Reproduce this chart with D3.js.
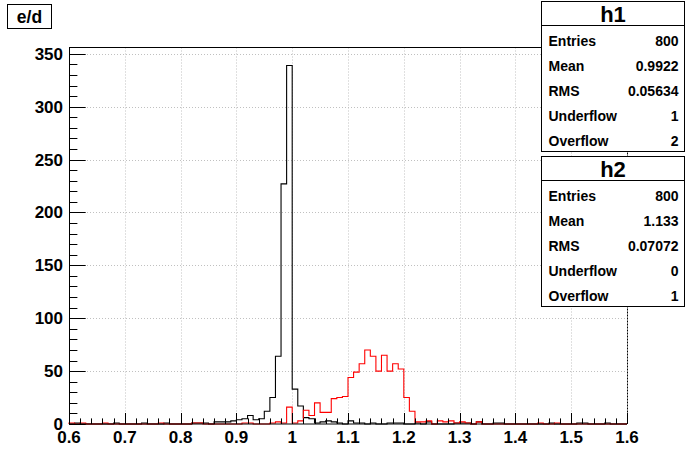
<!DOCTYPE html>
<html><head><meta charset="utf-8">
<script src="https://cdn.jsdelivr.net/npm/d3@7"></script>
<style>
body{margin:0;background:#fff;}
svg{display:block;font-family:"Liberation Sans",Arial,sans-serif;font-weight:bold;}
</style></head>
<body>
<svg id="c" width="696" height="472"></svg>
<script>
// ---- data ----
const xMin = 0.6, xMax = 1.6, nBins = 100;
const h1Counts = [
 0,1,0,0,0,0,0,0,1,0,
 0,0,0,1,0,0,0,1,0,0,
 0,0,1,1,1,0,2,2,2,3,
 4,5,8,4,5,12,25,64,227,339,
 33,17,6,5,1,2,3,2,1,0,
 3,1,1,0,1,0,0,1,1,1,
 0,0,1,0,2,0,0,0,0,1,
 1,1,0,2,0,0,1,1,0,0,
 0,0,0,0,0,0,1,0,0,0,
 0,1,1,0,0,0,1,0,0,0
];
const h2Counts = [
 1,0,1,0,0,0,1,0,0,0,
 0,0,0,0,0,0,1,0,0,0,
 0,0,1,1,0,0,0,0,0,0,
 0,1,1,0,0,0,1,2,1,16,
 1,3,13,8,20,11,11,24,25,26,
 44,49,57,70,64,50,65,50,57,52,
 25,12,2,2,3,0,3,2,3,1,
 2,1,0,2,0,0,0,0,0,0,
 0,0,0,0,1,0,0,1,0,0,
 0,0,0,0,0,0,0,0,0,0
];
const xTicks = [0.6,0.7,0.8,0.9,1.0,1.1,1.2,1.3,1.4,1.5,1.6];
const xTickLabels = ["0.6","0.7","0.8","0.9","1","1.1","1.2","1.3","1.4","1.5","1.6"];
const yTicks = [0,50,100,150,200,250,300,350];
const histTitle = "e/d";
const statNames = ["Entries","Mean","RMS","Underflow","Overflow"];
const h1Stats = ["800","0.9922","0.05634","1","2"];
const h2Stats = ["800","1.133","0.07072","0","1"];

// ---- layout ----
const L = 69, R = 627, T = 47.5, B = 424;
const svg = d3.select("#c");
const binW = (xMax - xMin) / nBins;
const yMax = d3.max(h1Counts.concat(h2Counts)) * 1.05;
const x = d3.scaleLinear().domain([xMin, xMax]).range([L, R]);
const y = d3.scaleLinear().domain([0, yMax]).range([B, T]);

// grid
const grid = svg.append("g").attr("stroke","#c0c0c0").attr("stroke-width",1).attr("stroke-dasharray","1,2");
xTicks.slice(1,-1).forEach(v=>{
  grid.append("line").attr("x1",Math.round(x(v))+0.5).attr("x2",Math.round(x(v))+0.5).attr("y1",T).attr("y2",B);
});
yTicks.slice(1).forEach(v=>{
  grid.append("line").attr("x1",L).attr("x2",R).attr("y1",Math.round(y(v))+0.5).attr("y2",Math.round(y(v))+0.5);
});

// frame
svg.append("line").attr("x1",L).attr("x2",R).attr("y1",T).attr("y2",T).attr("stroke","#000");
svg.append("line").attr("x1",R+0.5).attr("x2",R+0.5).attr("y1",T).attr("y2",B).attr("stroke","#000").attr("stroke-dasharray","2,1");

// histograms
function histPath(counts){
  let p = "M" + x(xMin) + "," + y(0);
  counts.forEach((c,i)=>{
    const x0 = x(xMin + i*binW), x1 = x(xMin + (i+1)*binW);
    p += "L" + x0 + "," + y(c) + "L" + x1 + "," + y(c);
  });
  p += "L" + x(xMax) + "," + y(0);
  return p;
}
svg.append("path").attr("d",histPath(h1Counts)).attr("fill","none").attr("stroke","#000").attr("stroke-width",1.1);
svg.append("path").attr("d",histPath(h2Counts)).attr("fill","none").attr("stroke","#ff0000").attr("stroke-width",1.1);

// axes
const xAxisG = svg.append("g").attr("transform","translate(0,"+B+")");
xAxisG.append("line").attr("x1",L).attr("x2",R).attr("stroke","#000");
const xMinor = d3.range(0,51).map(k=>xMin + k*0.02);
xMinor.forEach((v,k)=>{
  const len = (k%5===0) ? 11 : 5.6;
  xAxisG.append("line").attr("x1",Math.round(x(v))+0.5).attr("x2",Math.round(x(v))+0.5).attr("y1",0).attr("y2",-len).attr("stroke","#000");
});
xAxisG.selectAll("text.xl").data(xTicks).enter().append("text")
  .attr("x",d=>x(d)).attr("y",19).attr("text-anchor","middle")
  .attr("font-size",17).text((d,i)=>xTickLabels[i]);

const yAxisG = svg.append("g");
yAxisG.append("line").attr("x1",L+0.5).attr("x2",L+0.5).attr("y1",T).attr("y2",B).attr("stroke","#000");
d3.range(0,356,10).forEach(v=>{
  const len = (v%50===0) ? 16.7 : 8.4;
  yAxisG.append("line").attr("x1",L).attr("x2",L+len).attr("y1",Math.round(y(v))+0.5).attr("y2",Math.round(y(v))+0.5).attr("stroke","#000");
});
yAxisG.selectAll("text").data(yTicks).enter().append("text")
  .attr("x",63).attr("y",d=>y(d)+6).attr("text-anchor","end")
  .attr("font-size",17).text(d=>d);

// title box
svg.append("rect").attr("x",7.5).attr("y",4.5).attr("width",44).attr("height",24).attr("fill","#fff").attr("stroke","#000");
svg.append("text").attr("x",29.5).attr("y",22.5).attr("text-anchor","middle").attr("font-size",17.5).text(histTitle);

// stats boxes
function statBox(top, name, vals){
  const bx = 541.5, bw = 143, rowH = 25.2, titleH = 24;
  const g = svg.append("g");
  g.append("rect").attr("x",bx).attr("y",top).attr("width",bw).attr("height",titleH + rowH*5).attr("fill","#fff").attr("stroke","#000");
  g.append("line").attr("x1",bx).attr("x2",bx+bw).attr("y1",top+titleH).attr("y2",top+titleH).attr("stroke","#000");
  g.append("text").attr("x",bx+bw/2).attr("y",top+20).attr("text-anchor","middle").attr("font-size",22).text(name);
  statNames.forEach((s,i)=>{
    const cy = top + titleH + rowH*(i+0.5) + 2.5;
    g.append("text").attr("x",bx+7).attr("y",cy+5).attr("font-size",14).text(s);
    g.append("text").attr("x",bx+bw-6).attr("y",cy+5).attr("text-anchor","end").attr("font-size",14).text(vals[i]);
  });
}
statBox(1.5,"h1",h1Stats);
statBox(156.5,"h2",h2Stats);
</script>
</body></html>
